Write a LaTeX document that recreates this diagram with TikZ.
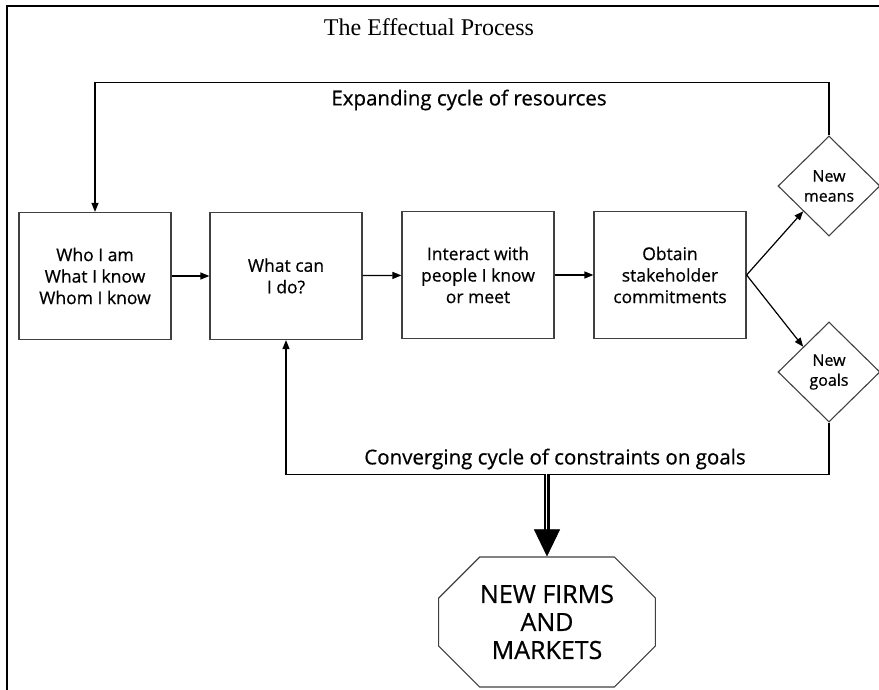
\documentclass[tikz,border=0pt]{standalone}
\usepackage{fontspec}
\setmainfont{Liberation Serif}
\newfontfamily\handfont[FakeBold=0.6]{Open Sans}
\usetikzlibrary{shapes.geometric,shapes.misc,arrows.meta}
\tikzset{
  stagebox/.style={draw=black!75, line width=1.2pt, minimum width=152pt, minimum height=127pt,
    align=center, font=\handfont\fontsize{17.5}{21.5}\selectfont},
  outcome/.style={draw=black!75, line width=1.1pt, diamond, aspect=1, inner sep=0pt,
    minimum width=102pt, minimum height=100pt, align=center, font=\handfont\fontsize{16}{20}\selectfont},
  flow/.style={line width=1.2pt, -{Triangle[length=9pt,width=7pt]}},
  cyclelabel/.style={font=\handfont\fontsize{20.5}{24}\selectfont}
}

\begin{document}
\begin{tikzpicture}[x=1pt, y=-1pt]
    \useasboundingbox (0,0) rectangle (879,690);
    % FRAME AND TITLE
    \draw[line width=2pt] (7,690) -- (7,6) -- (879,6);
    \node (title) at (429,27) {\fontsize{24}{28}\selectfont The Effectual Process};
    % STAGES
    \node[stagebox] (who) at (95,276) {Who I am\\What I know\\Whom I know};
    \node[stagebox] (can) at (286,276) {What can\\I do?};
    \node[stagebox] (meet) at (478,275) {Interact with\\people I know\\or meet};
    \node[stagebox] (obtain) at (670,275) {Obtain\\stakeholder\\commitments};
    \node[outcome] (means) at (829,186) {New\\means};
    \node[outcome] (goals) at (829,372) {New\\goals};
    \node[draw=black!75, line width=1.1pt, chamfered rectangle, chamfered rectangle xsep=38pt,
      minimum width=212pt, minimum height=130pt, align=center,
      font=\handfont\fontsize{25}{28}\selectfont] (firms) at (547,622) {NEW FIRMS\\AND\\MARKETS};
    % ARROWS BETWEEN STAGES
    \draw[flow] (who) -- (can);
    \draw[flow] (can) -- (meet);
    \draw[flow] (meet) -- (obtain);
    \draw[flow] (obtain.east) -- (means.south west);
    \draw[flow] (obtain.east) -- (goals.north west);
    % EXPANDING CYCLE
    \draw[flow] (means.north) -- ++(0,-53) -| (who.north);
    \node[cyclelabel] (expand) at (469,100) {Expanding cycle of resources};
    % CONVERGING CYCLE
    \draw[flow] (goals.south) -- ++(0,52) -| (can.south);
    \node[cyclelabel] (converge) at (555,459) {Converging cycle of constraints on goals};
    \coordinate (split) at (547,474);
    \draw[line width=2.2pt, double, double distance=2pt, shorten >=24pt] (split) -- (firms.north);
    \draw[line width=0.5pt, -{Triangle[length=27pt,width=26pt]}] (split) -- (firms.north);
\end{tikzpicture}
\end{document}
